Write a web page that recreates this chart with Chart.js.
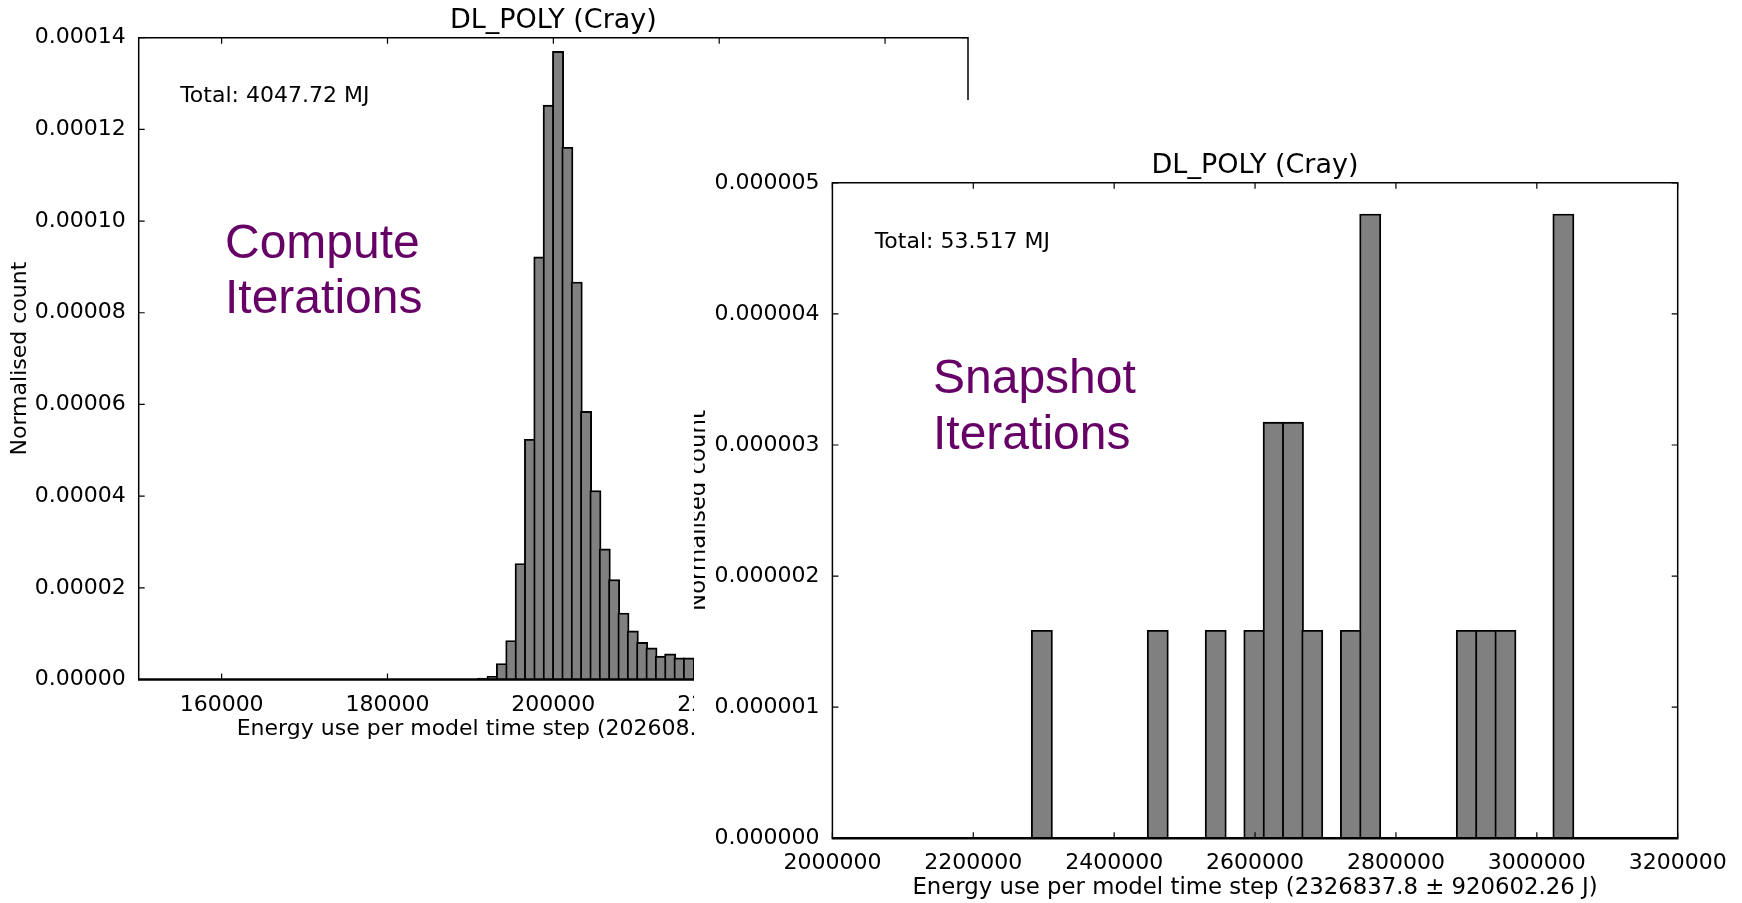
<!DOCTYPE html>
<html>
<head>
<meta charset="utf-8">
<title>DL_POLY (Cray) energy histograms</title>
<script src="https://cdn.jsdelivr.net/npm/chart.js@4.4.1/dist/chart.umd.min.js"></script>
<style>
  html, body { margin: 0; padding: 0; background: #fff; }
  body { width: 1742px; height: 903px; position: relative; overflow: hidden; }
  #computeChart { position: absolute; left: 0; top: 0; }
  /* the snapshot figure is pasted over the compute one, white background */
  #snapWrap { position: absolute; left: 694px; top: 100px; width: 1048px; height: 803px; overflow: hidden; background: #fff; }
  #snapshotChart { position: absolute; left: -44px; top: 0; }
</style>
</head>
<body>
<canvas id="computeChart" width="1000" height="760"></canvas>
<div id="snapWrap"><canvas id="snapshotChart" width="1092" height="803"></canvas></div>
<script>
// compute iterations: bin centres (J) and normalised counts
const computeBins = [191548, 192675, 193802, 194929, 196056, 197183, 198310, 199437,
  200564, 201691, 202818, 203945, 205072, 206199, 207326, 208453, 209580, 210707,
  211834, 212961, 214088, 215215, 216342];
const computeCounts = [0.0000003, 0.0000007, 0.0000035, 0.0000085, 0.0000253, 0.0000524,
  0.0000922, 0.0001253, 0.0001370, 0.0001161, 0.0000867, 0.0000585, 0.0000412, 0.0000285,
  0.0000218, 0.0000145, 0.0000106, 0.0000081, 0.0000069, 0.0000051, 0.0000056, 0.0000047,
  0.0000047];
const computeXTicks = [160000, 180000, 200000, 220000, 240000];
const computeYTicks = [0, 0.00002, 0.00004, 0.00006, 0.00008, 0.0001, 0.00012, 0.00014];

// snapshot iterations
const snapshotBins = [2297360, 2461880, 2544140, 2598980, 2626400, 2653820, 2681240,
  2736080, 2763500, 2900600, 2928020, 2955440, 3037700];
const snapshotCounts = [1.587e-6, 1.587e-6, 1.587e-6, 1.587e-6, 3.175e-6, 3.175e-6, 1.587e-6,
  1.587e-6, 4.762e-6, 1.587e-6, 1.587e-6, 1.587e-6, 4.762e-6];
const snapshotXTicks = [2000000, 2200000, 2400000, 2600000, 2800000, 3000000, 3200000];
const snapshotYTicks = [0, 0.000001, 0.000002, 0.000003, 0.000004, 0.000005];

Chart.defaults.font.family = 'DejaVu Sans';
Chart.defaults.font.size = 22;
Chart.defaults.color = '#000';

// matplotlib style box with inward ticks on all four sides
const mplFrame = {
  id: 'mplFrame',
  afterDatasetsDraw(chart) {
    const {ctx, chartArea: a, scales: {x, y}} = chart;
    ctx.save();
    ctx.strokeStyle = '#000';
    ctx.lineWidth = 1.2;
    ctx.beginPath();
    x.ticks.forEach(t => {
      const px = x.getPixelForValue(t.value);
      ctx.moveTo(px, a.bottom); ctx.lineTo(px, a.bottom - 6);
      ctx.moveTo(px, a.top); ctx.lineTo(px, a.top + 6);
    });
    y.ticks.forEach(t => {
      const py = y.getPixelForValue(t.value);
      ctx.moveTo(a.left, py); ctx.lineTo(a.left + 6, py);
      ctx.moveTo(a.right, py); ctx.lineTo(a.right - 6, py);
    });
    ctx.stroke();
    ctx.lineWidth = 1.5;
    ctx.beginPath();
    ctx.moveTo(a.left, a.bottom); ctx.lineTo(a.left, a.top);
    ctx.lineTo(a.right, a.top); ctx.lineTo(a.right, a.bottom);
    ctx.stroke();
    // empty bins' edges make the baseline look heavier
    ctx.lineWidth = 2.6;
    ctx.beginPath();
    ctx.moveTo(a.left - 0.7, a.bottom); ctx.lineTo(a.right + 0.7, a.bottom);
    ctx.stroke();
    ctx.restore();
  }
};

// "Total" text and the purple overlay labels
const notes = {
  id: 'notes',
  afterDraw(chart, args, opts) {
    const {ctx, chartArea: a} = chart;
    ctx.save();
    ctx.textBaseline = 'alphabetic';
    ctx.textAlign = 'left';
    ctx.fillStyle = '#000';
    ctx.font = '22px "DejaVu Sans"';
    ctx.fillText(opts.total, a.left + 0.05 * a.width, a.top + 0.1 * a.height);
    ctx.fillStyle = '#660066';
    ctx.font = '48px "Liberation Sans", Arial, sans-serif';
    opts.label.forEach((line, i) => ctx.fillText(line, opts.labelX, opts.labelY + i * 55.5));
    ctx.restore();
  }
};

function histogram(id, o) {
  return new Chart(document.getElementById(id), {
    type: 'bar',
    data: {
      datasets: [{
        data: o.bins.map((b, i) => ({x: b, y: o.counts[i]})),
        backgroundColor: '#808080',
        borderColor: '#000',
        borderWidth: 1.9,
        barThickness: o.barPx
      }]
    },
    options: {
      responsive: false,
      animation: false,
      devicePixelRatio: 1,
      layout: {padding: {left: 0, top: 0, right: o.padRight, bottom: 0}},
      plugins: {
        legend: {display: false},
        tooltip: {enabled: false},
        title: {
          display: true,
          text: 'DL_POLY (Cray)',
          fullSize: false,
          color: '#000',
          font: {size: 27, weight: 'normal'},
          padding: {top: o.titleTop, bottom: o.titleBottom}
        },
        notes: {total: o.total, label: o.label, labelX: o.labelX, labelY: o.labelY}
      },
      scales: {
        x: {
          type: 'linear',
          min: o.xMin,
          max: o.xMax,
          offset: false,
          grid: {display: false},
          border: {display: false},
          afterBuildTicks: s => { s.ticks = o.xTicks.map(v => ({value: v})); },
          afterFit: s => { s.height = o.xAxisH; },
          ticks: {padding: o.xTickPad, maxRotation: 0, autoSkip: false, callback: v => String(v)},
          title: {display: true, text: o.xTitle, font: {size: o.labelPx}, padding: {top: 0, bottom: o.xTitlePad}}
        },
        y: {
          min: 0,
          max: o.yMax,
          grid: {display: false},
          border: {display: false},
          afterBuildTicks: s => { s.ticks = o.yTicks.map(v => ({value: v})); },
          afterFit: s => { s.width = o.yAxisW; },
          ticks: {padding: 5, autoSkip: false, callback: v => v.toFixed(o.decimals)},
          title: {display: true, text: 'Normalised count', font: {size: o.labelPx}, padding: {top: o.yTitlePad, bottom: 0}}
        }
      }
    },
    plugins: [mplFrame, notes]
  });
}

histogram('computeChart', {
  bins: computeBins, counts: computeCounts, xTicks: computeXTicks, yTicks: computeYTicks,
  xMin: 150000, xMax: 250000, yMax: 0.00014, decimals: 5, barPx: 11.25, labelPx: 22,
  padRight: 32, yAxisW: 138.7, xAxisH: 80.5, titleTop: 4.4, titleBottom: 0.9,
  xTickPad: 4.3, xTitlePad: 17.8, yTitlePad: 6.8,
  xTitle: 'Energy use per model time step (202608.31 \u00b1 7034.94 J)',
  total: 'Total: 4047.72 MJ', label: ['Compute', 'Iterations'], labelX: 225, labelY: 257.5
});

histogram('snapshotChart', {
  bins: snapshotBins, counts: snapshotCounts, xTicks: snapshotXTicks, yTicks: snapshotYTicks,
  xMin: 2000000, xMax: 3200000, yMax: 0.000005, decimals: 6, barPx: 21.2, labelPx: 22.8,
  padRight: 64.3, yAxisW: 182.4, xAxisH: 64.7, titleTop: 49.5, titleBottom: 0.9,
  xTickPad: 4, xTitlePad: 0.8, yTitlePad: 35,
  xTitle: 'Energy use per model time step (2326837.8 \u00b1 920602.26 J)',
  total: 'Total: 53.517 MJ', label: ['Snapshot', 'Iterations'], labelX: 283, labelY: 293
});
</script>
</body>
</html>
